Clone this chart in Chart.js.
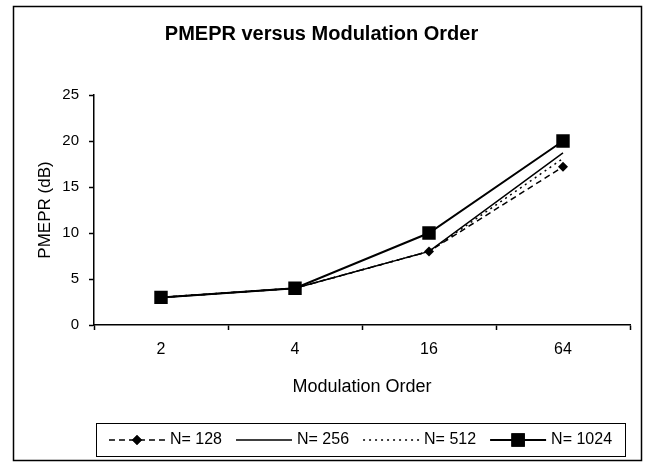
<!DOCTYPE html>
<html>
<head>
<meta charset="utf-8">
<script src="https://cdn.jsdelivr.net/npm/chart.js@4/dist/chart.umd.min.js"></script>
<style>
    html, body { margin: 0; padding: 0; background: #fff; }
    #wrap { width: 645px; height: 466px; position: relative; }
</style>
</head>
<body>
<div id="wrap"><canvas id="pmeprChart" width="645" height="466"></canvas></div>
<script>
const orders = ["2", "4", "16", "64"];
const n128 = [3, 4, 8, 17.2];
const n256 = [3, 4, 8, 18.7];
const n512 = [3, 4, 8, 18.1];
const n1024 = [3, 4, 10, 20];
const yTicks = [0, 5, 10, 15, 20, 25];

const FONT = "Liberation Sans, Arial, sans-serif";

// outer frame + legend box drawn by hand, Excel style
const frameLegend = {
    id: "frameLegend",
    afterDraw(chart) {
        const ctx = chart.ctx;
        ctx.save();
        ctx.strokeStyle = "#000";
        ctx.lineWidth = 1.5;
        ctx.strokeRect(13.5, 6.5, 628, 454);

        // legend
        const boxL = 96, boxR = 625, boxT = 423, boxB = 456;
        ctx.lineWidth = 1;
        ctx.strokeRect(boxL + 0.5, boxT + 0.5, boxR - boxL, boxB - boxT);
        ctx.font = "16px " + FONT;
        ctx.textBaseline = "middle";
        ctx.textAlign = "left";
        const sample = 56, gap = 5, itemGap = 14;
        const sets = chart.data.datasets;
        let total = 0;
        sets.forEach((ds, i) => {
            total += sample + gap + ctx.measureText(ds.label).width;
            if (i < sets.length - 1) total += itemGap;
        });
        let x = (boxL + boxR) / 2 - total / 2;
        const cy = (boxT + boxB) / 2 + 0.5;
        sets.forEach(ds => {
            ctx.save();
            ctx.strokeStyle = "#000";
            ctx.lineWidth = ds.borderWidth;
            ctx.setLineDash(ds.borderDash || []);
            ctx.beginPath();
            ctx.moveTo(x, cy);
            ctx.lineTo(x + sample, cy);
            ctx.stroke();
            ctx.setLineDash([]);
            if (ds.pointRadius > 0) {
                ctx.fillStyle = "#000";
                Chart.helpers.drawPoint(ctx, {pointStyle: ds.pointStyle, radius: ds.pointRadius, borderWidth: 0, rotation: 0}, x + sample / 2, cy);
                ctx.fill();
            }
            ctx.restore();
            x += sample + gap;
            ctx.fillStyle = "#000";
            ctx.fillText(ds.label, x, cy);
            x += ctx.measureText(ds.label).width + itemGap;
        });
        ctx.restore();
    }
};

function makeSet(label, data, opts) {
    return Object.assign({
        label: label,
        data: data,
        borderColor: "#000",
        backgroundColor: "#000",
        pointBackgroundColor: "#000",
        pointBorderColor: "#000",
        pointBorderWidth: 0,
        fill: false,
        tension: 0
    }, opts);
}

new Chart(document.getElementById("pmeprChart").getContext("2d"), {
    type: "line",
    data: {
        labels: orders,
        datasets: [
            makeSet("N= 128", n128, {borderWidth: 1.5, borderDash: [6, 4], pointStyle: "rectRot", pointRadius: 5}),
            makeSet("N= 256", n256, {borderWidth: 1.5, pointRadius: 0}),
            makeSet("N= 512", n512, {borderWidth: 1.5, borderDash: [2, 4], pointRadius: 0}),
            makeSet("N= 1024", n1024, {borderWidth: 2, pointStyle: "rect", pointRadius: 9.5})
        ]
    },
    options: {
        responsive: false,
        animation: false,
        layout: { padding: { left: 13, right: 15, top: 6, bottom: 66 } },
        plugins: {
            legend: { display: false },
            tooltip: { enabled: false },
            title: {
                display: true,
                text: "PMEPR versus Modulation Order",
                color: "#000",
                font: { family: FONT, size: 20, weight: "bold", lineHeight: 1.2 },
                padding: { top: 16, bottom: 49 }
            }
        },
        scales: {
            x: {
                offset: true,
                grid: { offset: true, drawOnChartArea: false, color: "#000", tickLength: 5, tickWidth: 1.5 },
                border: { color: "#000", width: 1.5 },
                ticks: { color: "#000", font: { family: FONT, size: 16 }, padding: 10 },
                title: {
                    display: true, text: "Modulation Order", color: "#000",
                    font: { family: FONT, size: 18 }, padding: { top: 0, bottom: 2 }
                },
                afterFit(scale) { scale.height = 75; }
            },
            y: {
                min: 0,
                max: 25,
                afterBuildTicks(scale) { scale.ticks = yTicks.map(v => ({value: v})); },
                grid: { drawOnChartArea: false, color: "#000", tickLength: 5, tickWidth: 1.5 },
                border: { color: "#000", width: 1.5 },
                ticks: { color: "#000", font: { family: FONT, size: 15 }, padding: 10 },
                title: {
                    display: true, text: "PMEPR (dB)", color: "#000",
                    font: { family: FONT, size: 17 }, padding: { top: 22, bottom: 0 }
                },
                afterFit(scale) { scale.width = 81; }
            }
        }
    },
    plugins: [frameLegend]
});
</script>
</body>
</html>
